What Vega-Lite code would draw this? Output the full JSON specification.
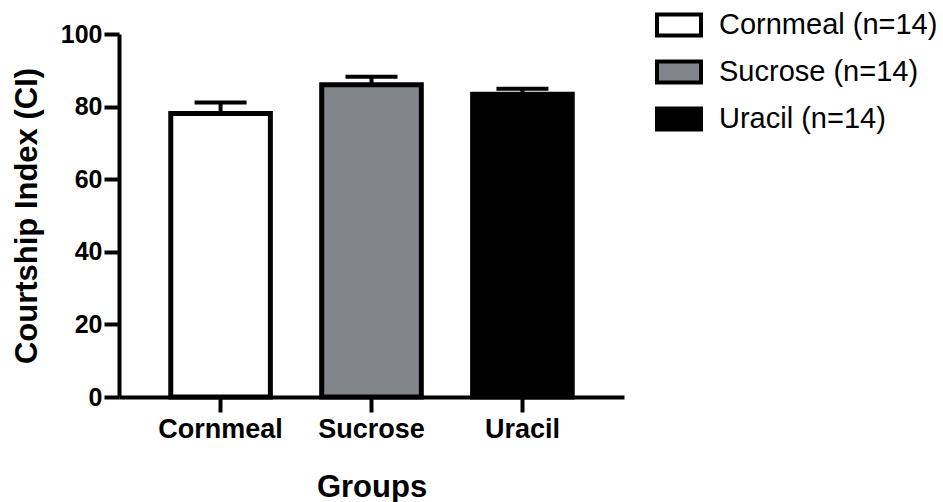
{
  "$schema": "https://vega.github.io/schema/vega-lite/v6.json",
  "width": 505,
  "height": 363,
  "autosize": {"type": "none"},
  "padding": {"left": 119, "top": 34, "right": 319, "bottom": 105},
  "background": "white",
  "config": {
    "view": {"stroke": null},
    "font": "Liberation Sans",
    "axis": {"grid": false, "domainColor": "black", "tickColor": "black", "labelColor": "black", "titleColor": "black", "domainWidth": 4, "tickWidth": 4, "labelFont": "Liberation Sans", "titleFont": "Liberation Sans", "labelFontWeight": "bold", "titleFontWeight": "bold"}
  },
  "data": {
    "values": [
      {"group": "Cornmeal", "label": "Cornmeal (n=14)", "value": 78.1, "upper": 81.1},
      {"group": "Sucrose", "label": "Sucrose (n=14)", "value": 86.0, "upper": 88.2},
      {"group": "Uracil", "label": "Uracil (n=14)", "value": 83.4, "upper": 84.9}
    ]
  },
  "encoding": {
    "x": {
      "field": "group", "type": "nominal", "sort": null,
      "scale": {"paddingInner": 0.34, "paddingOuter": 0.343},
      "axis": {"title": "Groups", "labelAngle": 0, "labelFontSize": 27, "titleFontSize": 31, "tickSize": 15, "labelPadding": 4, "titlePadding": 30}
    }
  },
  "layer": [
    {
      "mark": {"type": "bar", "stroke": "black", "strokeWidth": 5, "strokeJoin": "miter"},
      "encoding": {
        "y": {
          "field": "value", "type": "quantitative",
          "scale": {"domain": [0, 100], "nice": false},
          "axis": {"title": "Courtship Index (CI)", "values": [0, 20, 40, 60, 80, 100], "labelFontSize": 25, "titleFontSize": 31, "tickSize": 15, "labelPadding": 2, "titlePadding": 17}
        },
        "color": {
          "field": "label", "type": "nominal", "sort": null,
          "scale": {"domain": ["Cornmeal (n=14)", "Sucrose (n=14)", "Uracil (n=14)"], "range": ["#ffffff", "#82858c", "#000000"]},
          "legend": {
            "title": null, "orient": "none", "legendX": 536, "legendY": -33,
            "symbolType": "M-1,-0.48H1V0.48H-1Z", "symbolSize": 1936,
            "symbolStrokeColor": "black", "symbolStrokeWidth": 4, "symbolOpacity": 1,
            "labelFont": "Liberation Sans", "labelFontSize": 29, "labelColor": "black",
            "labelOffset": 16, "rowPadding": 4, "padding": 0, "labelLimit": 400
          }
        }
      }
    },
    {
      "mark": {"type": "rule", "color": "black", "strokeWidth": 4},
      "encoding": {
        "y": {"field": "value", "type": "quantitative"},
        "y2": {"field": "upper"}
      }
    },
    {
      "mark": {"type": "tick", "color": "black", "size": 52, "thickness": 4, "opacity": 1},
      "encoding": {
        "y": {"field": "upper", "type": "quantitative"}
      }
    }
  ]
}
